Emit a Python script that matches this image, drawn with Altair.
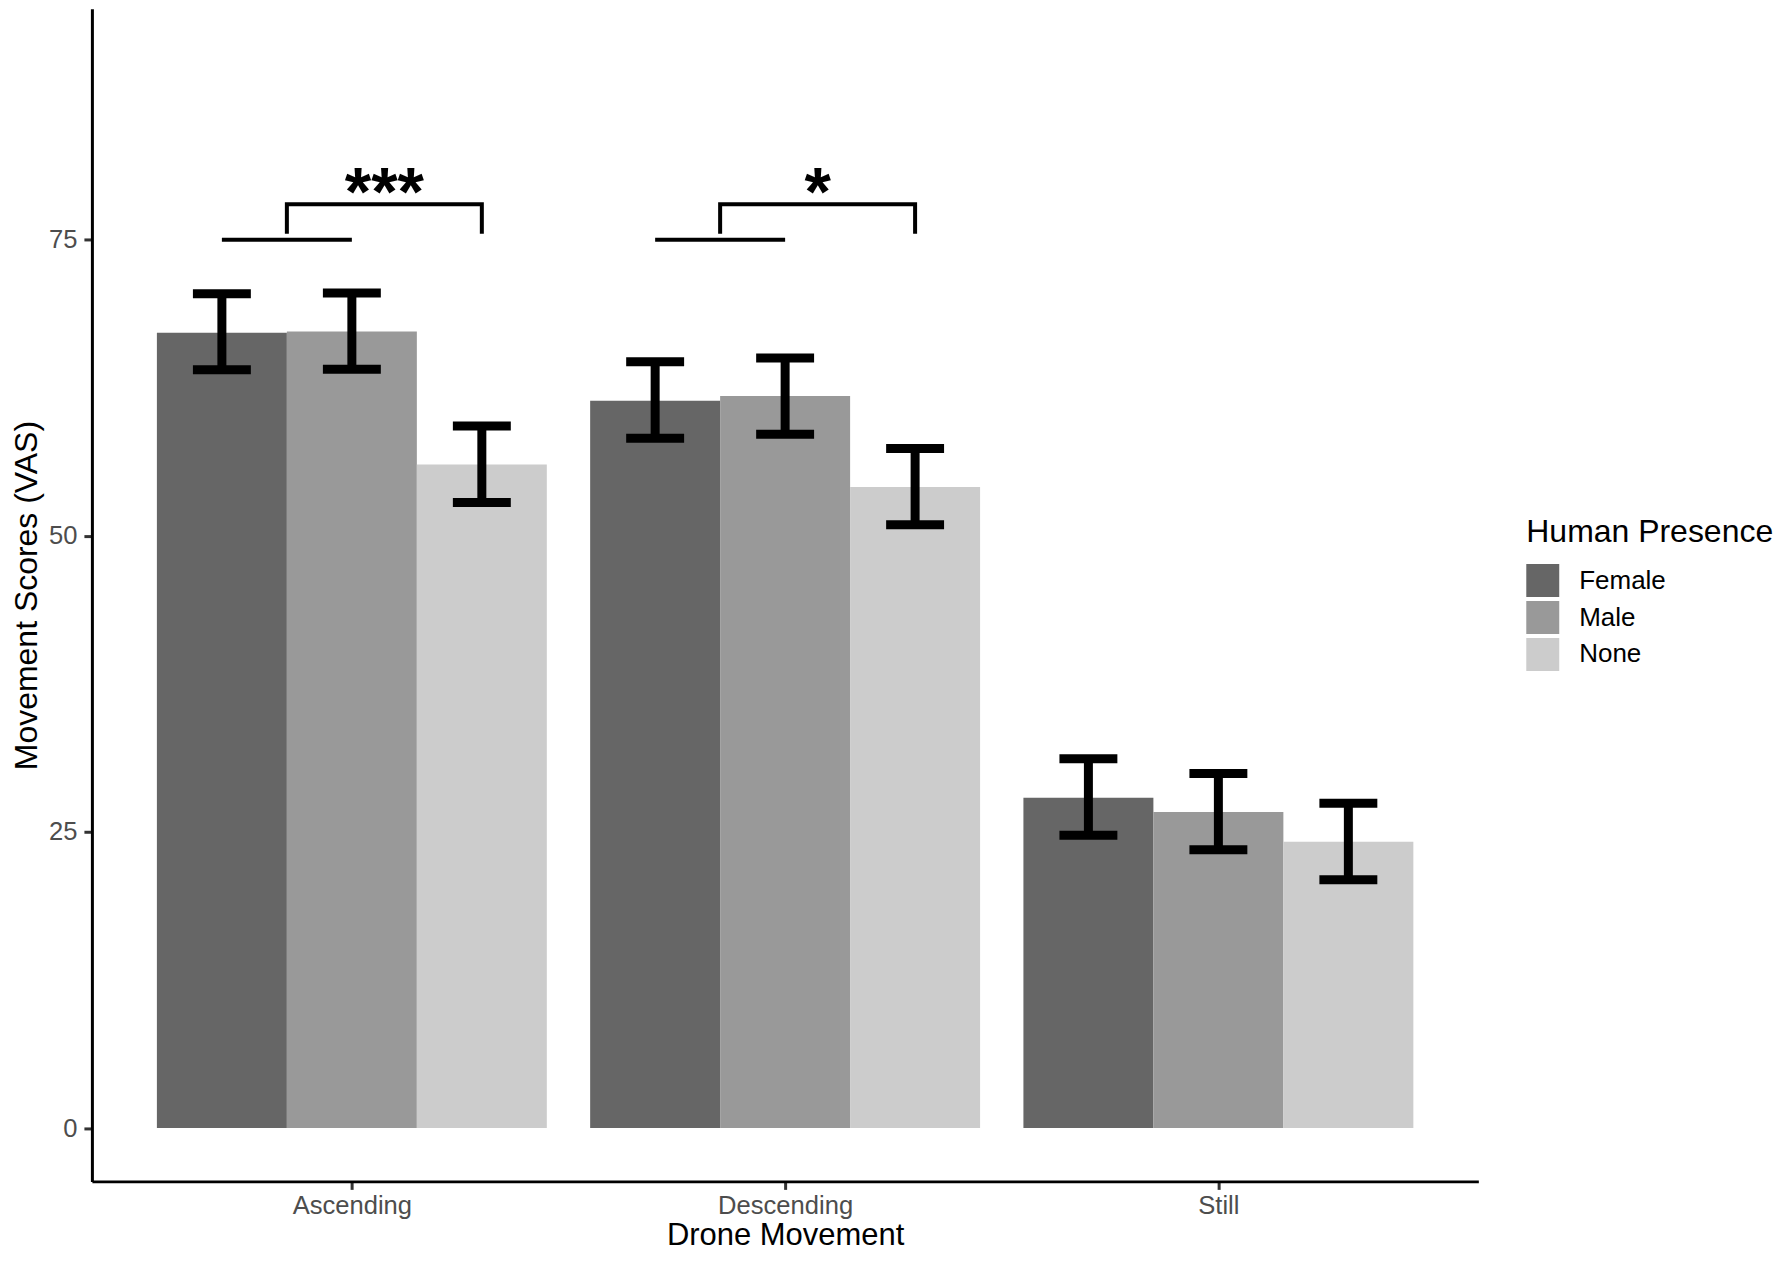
import altair as alt
import pandas as pd

# ---- data ----
movements = ["Ascending", "Descending", "Still"]
presence = ["Female", "Male", "None"]
fills = ["#666666", "#999999", "#cccccc"]

mean_female = [67.15, 61.41, 27.89]
mean_male = [67.24, 61.80, 26.69]
mean_none = [56.03, 54.12, 24.17]

lo_female = [64.01, 58.24, 24.73]
lo_male = [64.07, 58.58, 23.50]
lo_none = [52.81, 50.93, 20.97]

hi_female = [70.43, 64.69, 31.17]
hi_male = [70.49, 65.02, 29.94]
hi_none = [59.28, 57.37, 27.42]

sig_movements = ["Ascending", "Descending"]
sig_labels = ["***", "*"]
sig_base_y = 75.0    # Female-Male joining line
sig_tip_y = 75.5     # bracket tips
sig_top_y = 78.0     # bracket top
sig_text_y = 77.1    # star baseline

y_ticks = [0, 25, 50, 75]
y_domain = [-4.5, 94.5]

# ---- build tables ----
dodge = 0.3
means = [mean_female, mean_male, mean_none]
los = [lo_female, lo_male, lo_none]
his = [hi_female, hi_male, hi_none]

rows = []
for i, m in enumerate(movements):
    for k, p in enumerate(presence):
        c = (i + 1) + (k - 1) * dodge
        rows.append({
            "movement": m, "presence": p, "pos": c,
            "x0": c - dodge / 2, "x1": c + dodge / 2,
            "mean": means[k][i], "lo": los[k][i], "hi": his[k][i],
        })
df = pd.DataFrame(rows)

seg_rows = []
txt_rows = []
for j, m in enumerate(sig_movements):
    i = movements.index(m) + 1
    f_c = i - dodge
    m_c = i
    n_c = i + dodge
    left = (f_c + m_c) / 2
    seg_rows += [
        {"id": f"{m}-a", "o": 0, "x": f_c, "y": sig_base_y},
        {"id": f"{m}-a", "o": 1, "x": m_c, "y": sig_base_y},
        {"id": f"{m}-b", "o": 0, "x": left, "y": sig_tip_y},
        {"id": f"{m}-b", "o": 1, "x": left, "y": sig_top_y},
        {"id": f"{m}-b", "o": 2, "x": n_c, "y": sig_top_y},
        {"id": f"{m}-b", "o": 3, "x": n_c, "y": sig_tip_y},
    ]
    txt_rows.append({"x": (left + n_c) / 2, "y": sig_text_y, "label": sig_labels[j]})
seg = pd.DataFrame(seg_rows)
txt = pd.DataFrame(txt_rows)

FONT = "Liberation Sans"

xscale = alt.Scale(domain=[0.4, 3.6], nice=False, zero=False)
yscale = alt.Scale(domain=y_domain, nice=False, zero=False)

label_expr = str(movements) + "[datum.value - 1]"

x_axis = alt.Axis(
    values=[1, 2, 3], labelExpr=label_expr, title="Drone Movement",
    grid=False, labelFontSize=25.6, labelColor="#4d4d4d", labelPadding=4,
    titleFontSize=31, titleFontWeight="normal", titleColor="black", titlePadding=2,
    tickSize=8, tickWidth=3, tickColor="#333333", domainColor="black", domainWidth=3,
    labelFont=FONT, titleFont=FONT,
)
y_axis = alt.Axis(
    values=y_ticks, title="Movement Scores (VAS)", grid=False,
    labelFontSize=25.6, labelColor="#4d4d4d", labelPadding=7,
    titleFontSize=32, titleFontWeight="normal", titleColor="black", titlePadding=5,
    tickSize=8, tickWidth=3, tickColor="#333333", domainColor="black", domainWidth=3,
    labelFont=FONT, titleFont=FONT,
)

base = alt.Chart(df)

bars = base.mark_rect(strokeWidth=0).encode(
    x=alt.X("x0:Q", scale=xscale, axis=x_axis),
    x2="x1:Q",
    y=alt.Y("mean:Q", scale=yscale, axis=y_axis),
    y2=alt.datum(0),
    fill=alt.Fill(
        "presence:N",
        scale=alt.Scale(domain=presence, range=fills),
        legend=alt.Legend(
            title="Human Presence", orient="none", legendX=1436, legendY=509,
            titleFontSize=32, titleFontWeight="normal", titleColor="black",
            titleFont=FONT, titleLimit=1000, labelFont=FONT, labelFontSize=26,
            labelColor="black", symbolType="square", symbolSize=1089,
            symbolStrokeWidth=0, symbolOpacity=1, rowPadding=4, labelOffset=20,
            titlePadding=15, padding=0,
        ),
    ),
)

stems = base.mark_rule(color="black", strokeWidth=9, opacity=1).encode(
    x="pos:Q", y="lo:Q", y2="hi:Q"
)
caps_hi = base.mark_tick(color="black", thickness=9, size=58, orient="horizontal", opacity=1).encode(
    x="pos:Q", y="hi:Q"
)
caps_lo = base.mark_tick(color="black", thickness=9, size=58, orient="horizontal", opacity=1).encode(
    x="pos:Q", y="lo:Q"
)

brackets = alt.Chart(seg).mark_line(color="black", strokeWidth=4, strokeJoin="miter").encode(
    x="x:Q", y="y:Q", detail="id:N", order="o:Q"
)
stars = alt.Chart(txt).mark_text(
    font=FONT, fontSize=68, fontWeight="bold", color="black",
    baseline="alphabetic", align="center"
).encode(x="x:Q", y="y:Q", text="label:N")

chart = (
    alt.layer(bars, stems, caps_hi, caps_lo, brackets, stars)
    .properties(
        width=1388, height=1174,
        autosize=alt.AutoSizeParams(type="none"),
        padding={"left": 84, "top": 0, "right": 298, "bottom": 71},
    )
    .configure(font=FONT)
    .configure_view(strokeWidth=0)
)

chart.save("out.html", embed_options={"renderer": "svg", "actions": False})
